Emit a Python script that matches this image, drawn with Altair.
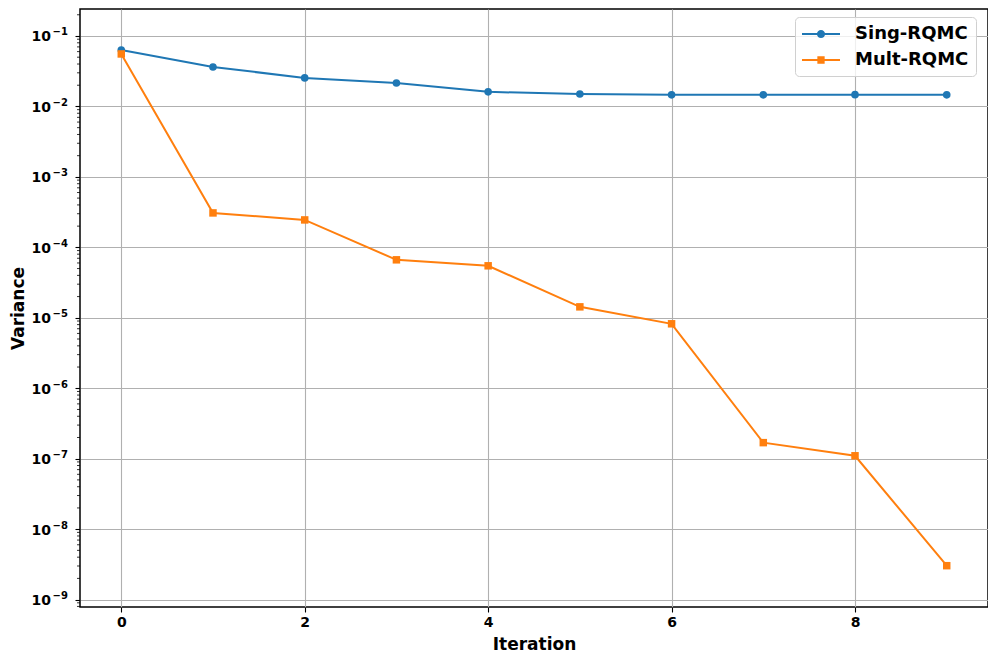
import altair as alt
import pandas as pd

iterations = [0, 1, 2, 3, 4, 5, 6, 7, 8, 9]
sing_rqmc = [0.0633, 0.0363, 0.0254, 0.0215, 0.0161, 0.0150, 0.0146, 0.0146, 0.0147, 0.0146]
mult_rqmc = [0.0556, 3.08e-4, 2.45e-4, 6.65e-5, 5.47e-5, 1.43e-5, 8.22e-6, 1.69e-7, 1.10e-7, 3.03e-9]
series_names = ["Sing-RQMC", "Mult-RQMC"]
series_colors = ["#1f77b4", "#ff7f0e"]
x_ticks = [0, 2, 4, 6, 8]
y_exponents = [-9, -8, -7, -6, -5, -4, -3, -2, -1]
minor_multipliers = [2, 3, 4, 5, 6, 7, 8, 9]

y_lo, y_hi = 10 ** -9.105, 10 ** -0.617

rows = []
for name, vals in zip(series_names, [sing_rqmc, mult_rqmc]):
    for it, v in zip(iterations, vals):
        rows.append({"Iteration": it, "Variance": v, "series": name})
df = pd.DataFrame(rows)

minor = [m * 10.0 ** e for e in range(-10, 0) for m in minor_multipliers]
minor = [v for v in minor if y_lo <= v <= y_hi]
minor_df = pd.DataFrame({"v": minor})

exp_df = pd.DataFrame({
    "v": [10.0 ** e for e in y_exponents],
    "base": ["10"] * len(y_exponents),
    "exp": ["\u2212" + str(abs(e)) for e in y_exponents],
})

FONT = "DejaVu Sans"

x_scale = alt.Scale(domain=[-0.45, 9.45], nice=False, zero=False)
y_scale = alt.Scale(type="log", domain=[y_lo, y_hi], nice=False)
color_scale = alt.Scale(domain=series_names, range=series_colors)

x_axis = alt.Axis(values=x_ticks, title="Iteration", grid=True, gridColor="#b0b0b0", gridWidth=1.1,
                  tickSize=5, tickColor="black", tickWidth=1.1, domain=False,
                  labelFont=FONT, labelFontWeight="bold", labelFontSize=14, labelColor="black",
                  labelPadding=3, labelFlush=False,
                  titleFont=FONT, titleFontWeight="bold", titleFontSize=17, titleColor="black",
                  titlePadding=7, format="d")
y_axis = alt.Axis(values=[10.0 ** e for e in y_exponents], title="Variance", grid=True,
                  gridColor="#b0b0b0", gridWidth=1.1,
                  tickSize=5, tickColor="black", tickWidth=1.1, domain=False,
                  labels=False,
                  titleFont=FONT, titleFontWeight="bold", titleFontSize=17, titleColor="black",
                  titlePadding=47)

base = alt.Chart(df)

lines = base.mark_line(strokeWidth=2).encode(
    x=alt.X("Iteration:Q", scale=x_scale, axis=x_axis),
    y=alt.Y("Variance:Q", scale=y_scale, axis=y_axis),
    color=alt.Color("series:N", scale=color_scale, legend=None),
    detail="series:N",
)

pts_circle = base.transform_filter(alt.datum.series == series_names[0]).mark_point(
    filled=True, shape="circle", size=58, opacity=1
).encode(
    x=alt.X("Iteration:Q", scale=x_scale),
    y=alt.Y("Variance:Q", scale=y_scale),
    color=alt.Color("series:N", scale=color_scale, legend=None),
)
pts_square = base.transform_filter(alt.datum.series == series_names[1]).mark_point(
    filled=True, shape="square", size=56, opacity=1
).encode(
    x=alt.X("Iteration:Q", scale=x_scale),
    y=alt.Y("Variance:Q", scale=y_scale),
    color=alt.Color("series:N", scale=color_scale, legend=None),
)

path_circle = "M-1,-0.1L2.8,-0.1L2.8,0.1L-1,0.1Z M1.31,0A0.41,0.41 0 1,1 0.49,0A0.41,0.41 0 1,1 1.31,0Z"
path_square = "M-1,-0.1L2.8,-0.1L2.8,0.1L-1,0.1Z M0.535,-0.365L1.265,-0.365L1.265,0.365L0.535,0.365Z"

legend = alt.Legend(
    title=None, orient="none", legendX=715, legendY=8,
    labelFont=FONT, labelFontWeight="bold", labelFontSize=18, labelColor="black",
    labelOffset=33, padding=7, rowPadding=7, symbolOpacity=1, symbolStrokeWidth=0,
    symbolSize=400, strokeColor="#d0d0d0", cornerRadius=4, fillColor="rgba(255,255,255,0.8)",
)
legend_layer = base.mark_point(filled=True, opacity=0, size=400).encode(
    x=alt.X("Iteration:Q", scale=x_scale),
    y=alt.Y("Variance:Q", scale=y_scale),
    color=alt.Color("series:N", scale=color_scale, legend=legend),
    shape=alt.Shape("series:N", scale=alt.Scale(domain=series_names, range=[path_circle, path_square]),
                    legend=legend),
)

minor_ticks = alt.Chart(minor_df).mark_rule(color="black", strokeWidth=0.8).encode(
    y=alt.Y("v:Q", scale=y_scale),
    x=alt.value(0),
    x2=alt.value(-3),
)

y_base_labels = alt.Chart(exp_df).mark_text(
    font=FONT, fontWeight="bold", fontSize=14, color="black", align="right", baseline="middle", dy=1.5
).encode(
    y=alt.Y("v:Q", scale=y_scale),
    x=alt.value(-29),
    text="base:N",
)
y_exp_labels = alt.Chart(exp_df).mark_text(
    font=FONT, fontWeight="bold", fontSize=10, color="black", align="left", baseline="middle", dy=-3.5
).encode(
    y=alt.Y("v:Q", scale=y_scale),
    x=alt.value(-27.5),
    text="exp:N",
)

chart = alt.layer(
    minor_ticks, lines, pts_circle, pts_square, legend_layer, y_base_labels, y_exp_labels
).resolve_legend(color="independent", shape="independent").properties(
    width=908, height=598,
    autosize=alt.AutoSizeParams(type="none"),
    padding={"left": 72, "top": 1, "right": 0, "bottom": 46},
    background="white",
).configure_view(stroke="black", strokeWidth=1.5)

chart.save("out.html", embed_options={"renderer": "svg", "actions": False})
